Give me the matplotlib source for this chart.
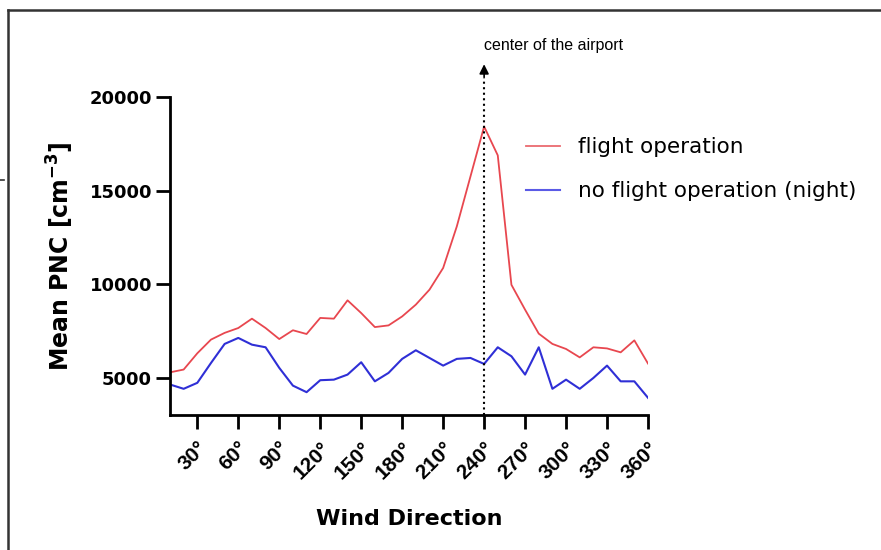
import matplotlib
matplotlib.use("Agg")
import matplotlib.pyplot as plt
from matplotlib.lines import Line2D

plt.rcParams['font.family'] = ['Liberation Sans', 'DejaVu Sans']

wind_dir = [10, 20, 30, 40, 50, 60, 70, 80, 90, 100, 110, 120, 130, 140, 150, 160, 170, 180,
            190, 200, 210, 220, 230, 240, 250, 260, 270, 280, 290, 300, 310, 320, 330, 340, 350, 360]
flight = [5280, 5430, 6300, 7030, 7390, 7650, 8150, 7650, 7060, 7530, 7330, 8190, 8150, 9130,
          8450, 7700, 7790, 8270, 8900, 9700, 10860, 13080, 15750, 18420, 16880, 9960, 8630,
          7350, 6800, 6530, 6080, 6620, 6560, 6350, 6990, 5750]
night = [4630, 4400, 4720, 5780, 6800, 7120, 6760, 6620, 5520, 4570, 4220, 4860, 4890, 5160,
         5820, 4800, 5250, 6000, 6460, 6050, 5640, 6000, 6050, 5730, 6620, 6140, 5160, 6620,
         4400, 4890, 4400, 4980, 5640, 4800, 4800, 3920]
xticks = [30, 60, 90, 120, 150, 180, 210, 240, 270, 300, 330, 360]
xtick_labels = [f"{t}°" for t in xticks]
yticks = [5000, 10000, 15000, 20000]
airport_dir = 240

fig = plt.figure(figsize=(8.81, 5.5), dpi=100)
ax = fig.add_axes([170/881, 135/550, (648-170)/881, (415-97)/550])

ax.plot(wind_dir, flight, color='#e8474f', lw=1.3, label='flight operation')
ax.plot(wind_dir, night, color='#2f2fd6', lw=1.5, label='no flight operation (night)')

ax.set_xlim(10, 360)
ax.set_ylim(3000, 20000)
ax.set_xticks(xticks)
ax.set_xticklabels(xtick_labels, rotation=45, ha='right', rotation_mode='anchor',
                   fontweight='bold', fontsize=15)
ax.set_yticks(yticks)
ax.set_yticklabels([str(v) for v in yticks], fontweight='bold', fontsize=13,
                   family='DejaVu Sans')
for s in ['top', 'right']:
    ax.spines[s].set_visible(False)
for s in ['left', 'bottom']:
    ax.spines[s].set_linewidth(2)
ax.tick_params(axis='both', direction='out', length=10, width=2, color='black')
ax.tick_params(axis='x', pad=7)
ax.tick_params(axis='y', pad=3)

ax.set_xlabel('Wind Direction', fontweight='bold', fontsize=16, labelpad=19,
              family='DejaVu Sans')
ax.set_ylabel('Mean PNC [cm$^{\\mathbf{-3}}$]', fontweight='bold', fontsize=17, labelpad=10,
              family='DejaVu Sans')

# dotted line & arrow marking airport center
ax.plot([airport_dir, airport_dir], [3000, 21000], ls=':', color='black', lw=1.5, clip_on=False)
ax.annotate('', xy=(airport_dir, 21900), xytext=(airport_dir, 20900),
            arrowprops=dict(arrowstyle='-|>', color='black', lw=1.2, mutation_scale=14),
            annotation_clip=False)
ax.text(airport_dir, 22750, 'center of the airport', fontsize=11.5, ha='left', va='center',
        family=['Liberation Sans Narrow', 'Liberation Sans'])

leg = fig.legend(loc='upper left', bbox_to_anchor=(507/881, 1 - 118/550), frameon=False,
                 prop={'family': 'DejaVu Sans', 'size': 15.5},
                 handlelength=1.55, handletextpad=0.85, labelspacing=1.1)
leg.get_lines()[0].set_color('#ea6a70')
leg.get_lines()[1].set_color('#5a5ae6')

# figure border
fig.add_artist(Line2D([8/881, 8/881], [0, 1 - 10/550], color='#333333', lw=1.8))
fig.add_artist(Line2D([8/881, 1], [1 - 10/550, 1 - 10/550], color='#333333', lw=1.8))
fig.add_artist(Line2D([0, 4/881], [1 - 180/550, 1 - 180/550], color='#333333', lw=1.2))

fig.savefig('out.png', dpi=100)
